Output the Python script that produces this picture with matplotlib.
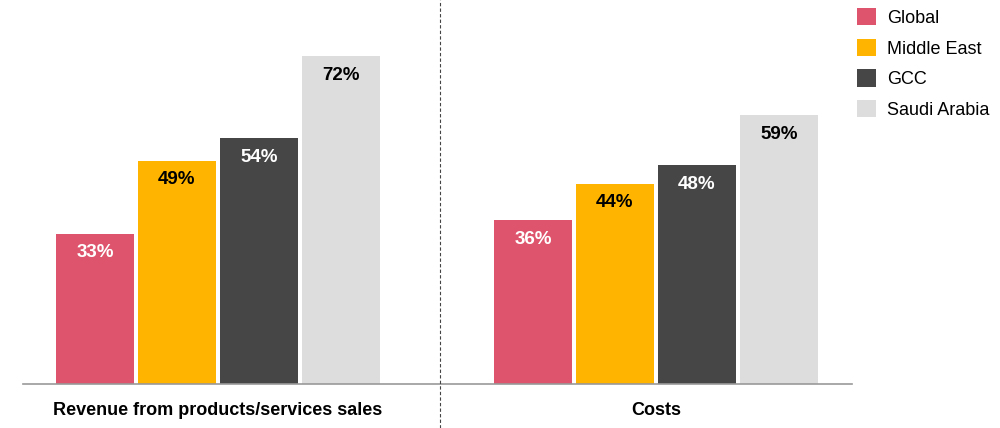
import matplotlib

matplotlib.use("Agg")
import matplotlib.pyplot as plt
import numpy as np
from matplotlib.lines import Line2D
from matplotlib.patches import Patch

plt.rcParams["font.family"] = ["Liberation Sans", "DejaVu Sans"]

categories = ["Revenue from products/services sales", "Costs"]
series = ["Global", "Middle East", "GCC", "Saudi Arabia"]
values = {
    "Global": [33, 36],
    "Middle East": [49, 44],
    "GCC": [54, 48],
    "Saudi Arabia": [72, 59],
}
colors = ["#DE546C", "#FFB400", "#464646", "#DDDDDD"]
label_colors = ["white", "black", "white", "black"]

fig = plt.figure(figsize=(10, 4.28), dpi=100)
ax = fig.add_axes([0.023, 44 / 428, 0.829, 384 / 428])

x = np.arange(len(categories))
width = 0.178
step = 0.1872
for i, (name, color) in enumerate(zip(series, colors)):
    xs = x + (i - 1.5) * step
    bars = ax.bar(xs, values[name], width=width, color=color, label=name)
    for b, v in zip(bars, values[name]):
        ax.text(b.get_x() + b.get_width() / 2, v - 4.2, f"{v}%", ha="center", va="center",
                fontsize=13.5, fontweight="bold", color=label_colors[i])

ax.set_xlim(-0.445, 1.4475)
ax.set_ylim(0, 84.3)
ax.set_xticks([])
ax.set_yticks([])
for s in ["top", "right", "left"]:
    ax.spines[s].set_visible(False)
ax.spines["bottom"].set_color("#999999")
ax.spines["bottom"].set_linewidth(1.2)

for xi, cat in zip(x, categories):
    ax.text(xi, -5.9, cat, ha="center", va="center", fontsize=13, fontweight="bold",
            clip_on=False)

# dashed divider between the two groups
fig.add_artist(Line2D([0.44, 0.44], [0, 1], transform=fig.transFigure,
                      color="#444444", linewidth=0.8, linestyle=(0, (3, 2))))

handles = [Patch(facecolor=c, edgecolor="none") for c in colors]
fig.legend(handles, series, loc="upper left", bbox_to_anchor=(0.857, 1 - 8 / 428),
           frameon=False, fontsize=13, handlelength=1.05, handleheight=1.1,
           labelspacing=0.66, handletextpad=0.62, borderaxespad=0, borderpad=0)

fig.savefig("out.png", dpi=100)
